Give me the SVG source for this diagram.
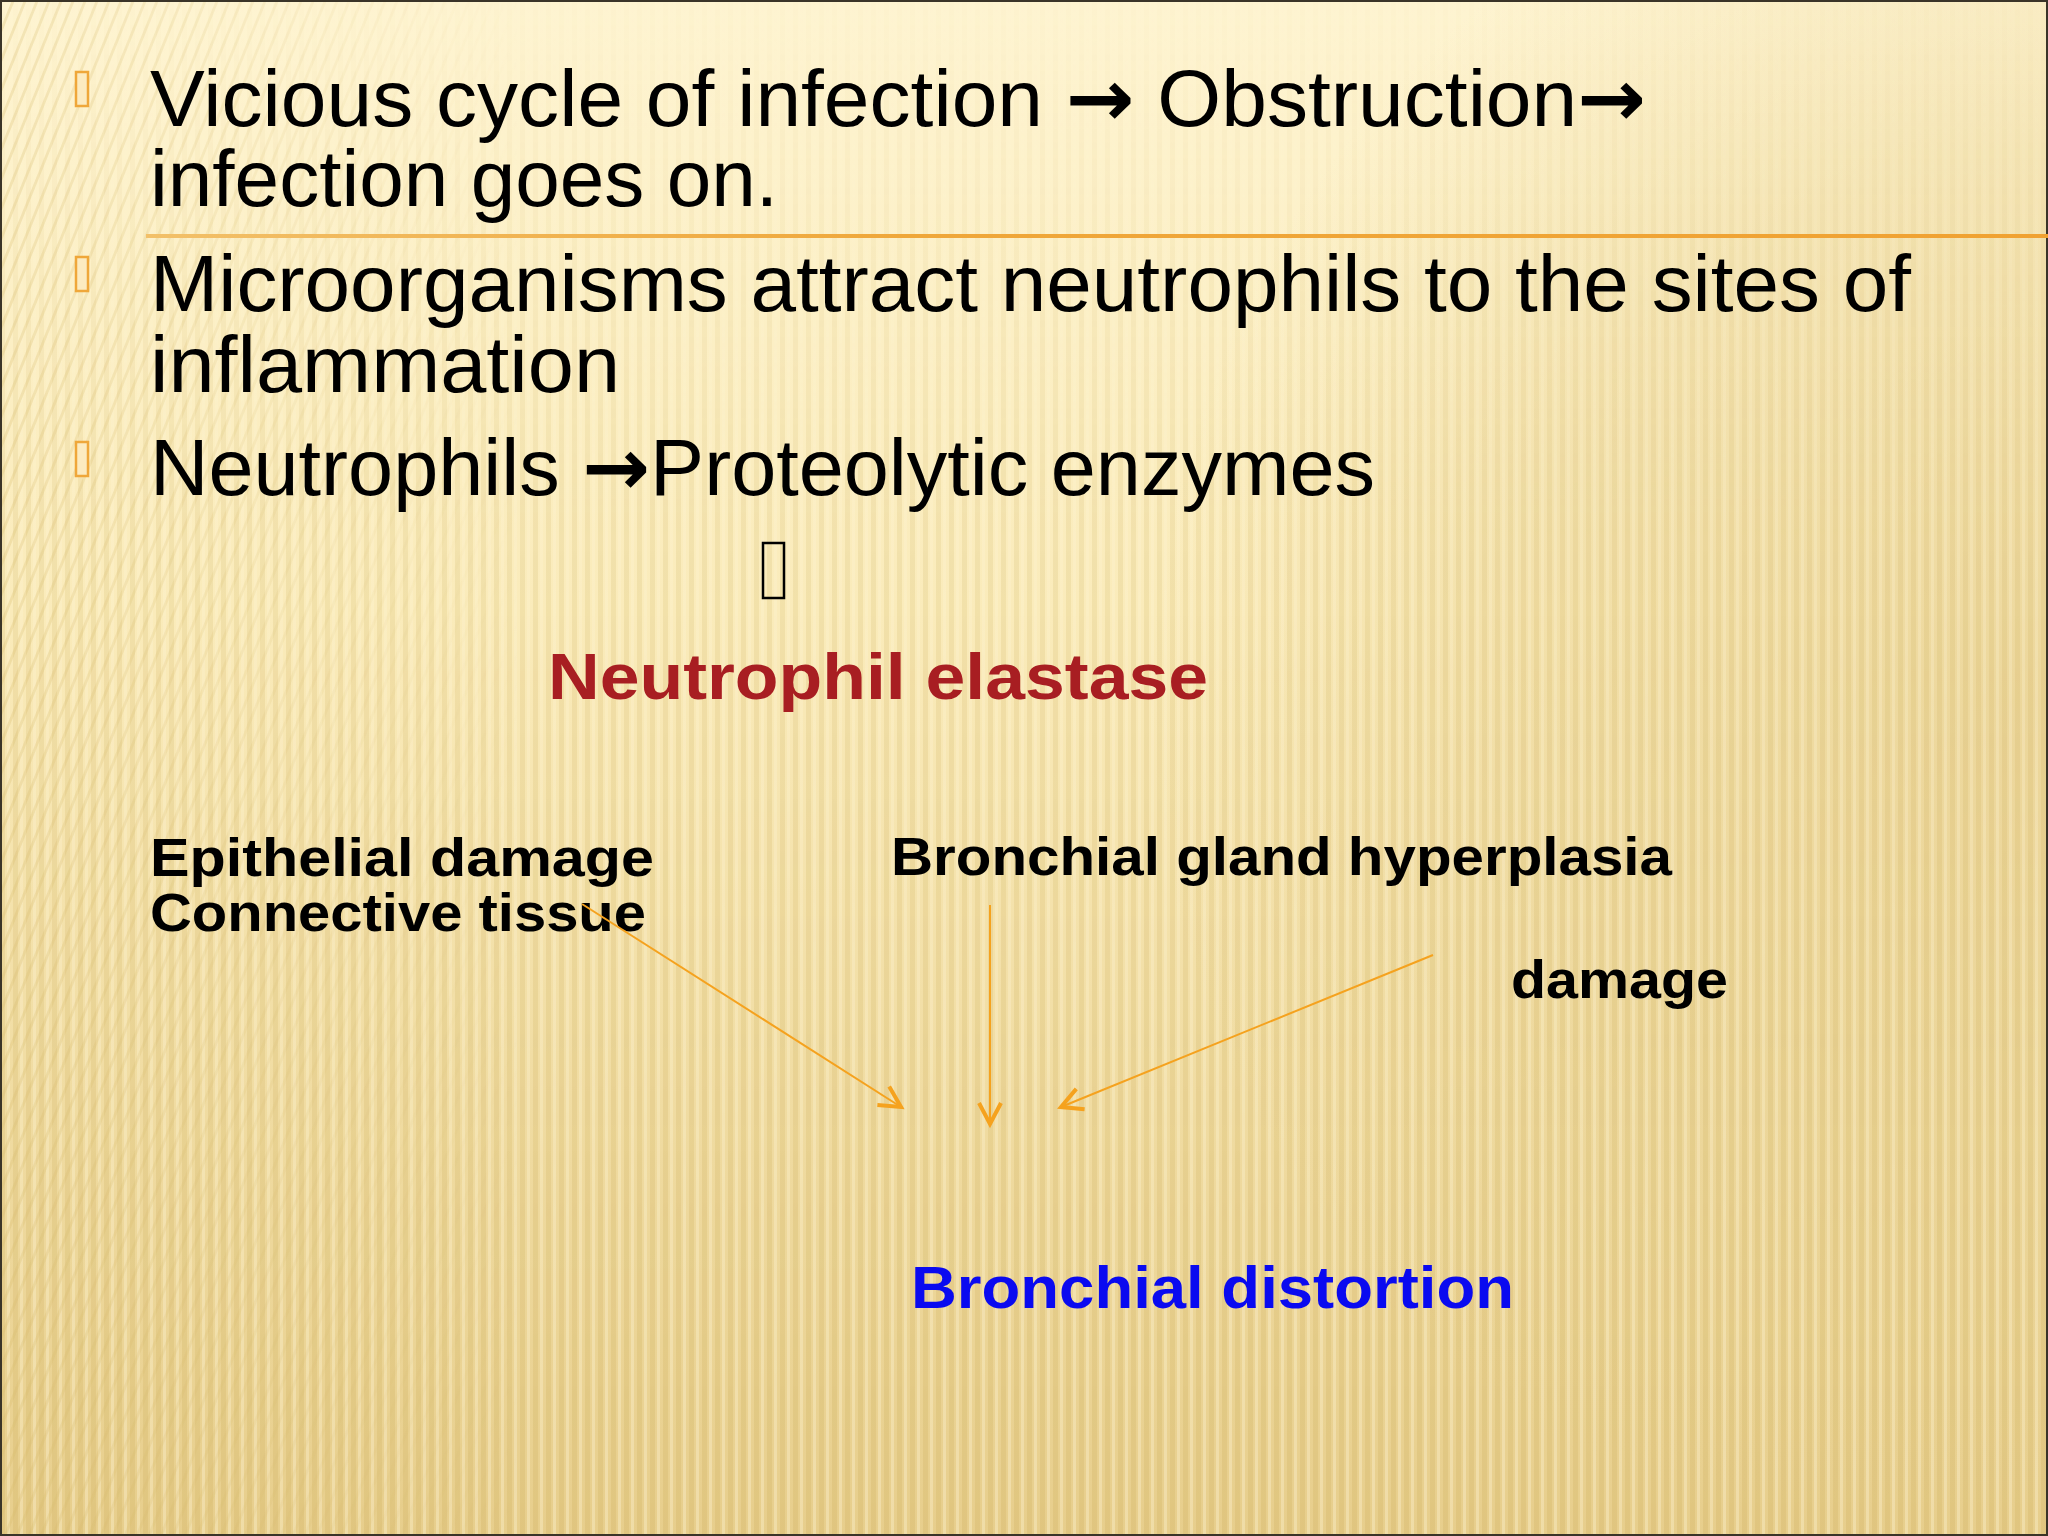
<svg xmlns="http://www.w3.org/2000/svg" width="2048" height="1536" viewBox="0 0 2048 1536">
  <defs>
    <linearGradient id="bg" x1="0" y1="0" x2="0" y2="1">
      <stop offset="0" stop-color="#FEF4D1"/>
      <stop offset="0.4" stop-color="#FAEBBA"/>
      <stop offset="1" stop-color="#E7CE8C"/>
    </linearGradient>
    <radialGradient id="rshade" cx="2050" cy="700" r="900" gradientUnits="userSpaceOnUse">
      <stop offset="0" stop-color="#E2C885" stop-opacity="0.55"/>
      <stop offset="0.6" stop-color="#E6CE8E" stop-opacity="0.35"/>
      <stop offset="1" stop-color="#E6CE8E" stop-opacity="0"/>
    </radialGradient>
    <pattern id="vstripes" width="13" height="40" patternUnits="userSpaceOnUse">
      <rect x="0" y="0" width="5" height="40" fill="#C9A851" opacity="0.22"/>
      <rect x="7" y="0" width="3" height="40" fill="#FFF6D8" opacity="0.35"/>
    </pattern>
    <pattern id="dstripes" width="12" height="40" patternUnits="userSpaceOnUse" patternTransform="skewX(-22)">
      <rect x="0" y="0" width="3" height="40" fill="#D6B86A" opacity="0.28"/>
    </pattern>
    <linearGradient id="fadeV" x1="0" y1="0" x2="0" y2="1">
      <stop offset="0" stop-color="#fff" stop-opacity="0.05"/>
      <stop offset="0.35" stop-color="#fff" stop-opacity="0.7"/>
      <stop offset="1" stop-color="#fff" stop-opacity="1"/>
    </linearGradient>
    <mask id="mV">
      <rect width="2048" height="1536" fill="url(#fadeV)"/>
    </mask>
    <linearGradient id="fadeL" x1="0" y1="0" x2="1" y2="0">
      <stop offset="0" stop-color="#fff" stop-opacity="1"/>
      <stop offset="1" stop-color="#fff" stop-opacity="0"/>
    </linearGradient>
    <mask id="mL">
      <rect x="0" y="0" width="520" height="1536" fill="url(#fadeL)"/>
    </mask>
    <linearGradient id="rule" x1="0" y1="0" x2="1" y2="0">
      <stop offset="0" stop-color="#F2C069"/>
      <stop offset="0.4" stop-color="#EFA73A"/>
      <stop offset="1" stop-color="#F0A232"/>
    </linearGradient>
    <marker id="vhead" markerUnits="userSpaceOnUse" markerWidth="40" markerHeight="40" viewBox="-30 -20 40 40" refX="0" refY="0" orient="auto">
      <path d="M -21 -11 L 0 0 L -21 11" fill="none" stroke="#F5A21E" stroke-width="4"/>
    </marker>
    <style>
      .body { font-family: "Liberation Sans Narrow", "Arial Narrow", "Liberation Sans", sans-serif; font-size: 80px; fill: #000; }
      .arr { font-family: "DejaVu Sans", sans-serif; font-weight: bold; }
      .lbl { font-family: "Liberation Sans Narrow", "Arial Narrow", "Liberation Sans", sans-serif; font-size: 54px; font-weight: bold; fill: #000; }
      .bul { fill: #FCEBC0; stroke: #EFA73A; stroke-width: 2.5; }
      .conn { stroke: #F5A21E; stroke-width: 2; fill: none; marker-end: url(#vhead); }
    </style>
  </defs>

  <!-- background -->
  <rect width="2048" height="1536" fill="url(#bg)"/>
  <rect width="2048" height="1536" fill="url(#rshade)"/>
  <rect width="2048" height="1536" fill="url(#vstripes)" mask="url(#mV)"/>
  <rect width="2048" height="1536" fill="url(#dstripes)" mask="url(#mL)"/>
  <rect x="1" y="1" width="2046" height="1534" fill="none" stroke="#3A3428" stroke-width="2"/>

  <!-- rule -->
  <rect x="146" y="234" width="1902" height="4" fill="url(#rule)"/>

  <!-- bullets -->
  <g id="bullets">
    <rect class="bul" x="76" y="72" width="12" height="34"/>
    <rect class="bul" x="76" y="257" width="12" height="34"/>
    <rect class="bul" x="76" y="442" width="12" height="34"/>
  </g>

  <!-- bullet texts -->
  <g id="bullet1">
    <text class="body" x="150" y="126" textLength="1496" lengthAdjust="spacingAndGlyphs">Vicious cycle of infection <tspan class="arr">→</tspan> Obstruction<tspan class="arr">→</tspan></text>
    <text class="body" x="150" y="206" textLength="628" lengthAdjust="spacingAndGlyphs">infection goes on.</text>
  </g>
  <g id="bullet2">
    <text class="body" x="150" y="311" textLength="1761" lengthAdjust="spacingAndGlyphs">Microorganisms attract neutrophils to the sites of</text>
    <text class="body" x="150" y="392" textLength="470" lengthAdjust="spacingAndGlyphs">inflammation</text>
  </g>
  <g id="bullet3">
    <text class="body" x="150" y="495" textLength="1225" lengthAdjust="spacingAndGlyphs">Neutrophils <tspan class="arr">→</tspan>Proteolytic enzymes</text>
  </g>

  <!-- missing-glyph box -->
  <rect id="glyphbox" x="763" y="543" width="21" height="55" fill="none" stroke="#000" stroke-width="2.5"/>

  <!-- nodes -->
  <g id="neutrophil-elastase">
    <text x="548" y="699" textLength="660" lengthAdjust="spacingAndGlyphs" style="font-family: 'Liberation Sans Narrow','Arial Narrow','Liberation Sans',sans-serif; font-size: 64px; font-weight: bold; fill: #A81E22;">Neutrophil elastase</text>
  </g>
  <g id="epithelial">
    <text class="lbl" x="150" y="876" textLength="504" lengthAdjust="spacingAndGlyphs">Epithelial damage</text>
    <text class="lbl" x="150" y="931" textLength="496" lengthAdjust="spacingAndGlyphs">Connective tissue</text>
  </g>
  <g id="gland">
    <text class="lbl" x="891" y="875" textLength="781" lengthAdjust="spacingAndGlyphs">Bronchial gland hyperplasia</text>
  </g>
  <g id="damage">
    <text class="lbl" x="1511" y="998" textLength="217" lengthAdjust="spacingAndGlyphs">damage</text>
  </g>
  <g id="distortion">
    <text x="911" y="1308" textLength="603" lengthAdjust="spacingAndGlyphs" style="font-family: 'Liberation Sans Narrow','Arial Narrow','Liberation Sans',sans-serif; font-size: 60px; font-weight: bold; fill: #0A0AF0;">Bronchial distortion</text>
  </g>

  <!-- connectors -->
  <g id="connectors">
    <line class="conn" x1="582" y1="904" x2="901" y2="1107"/>
    <line class="conn" x1="990" y1="905" x2="990" y2="1124"/>
    <line class="conn" x1="1433" y1="955" x2="1061" y2="1107"/>
  </g>
</svg>
